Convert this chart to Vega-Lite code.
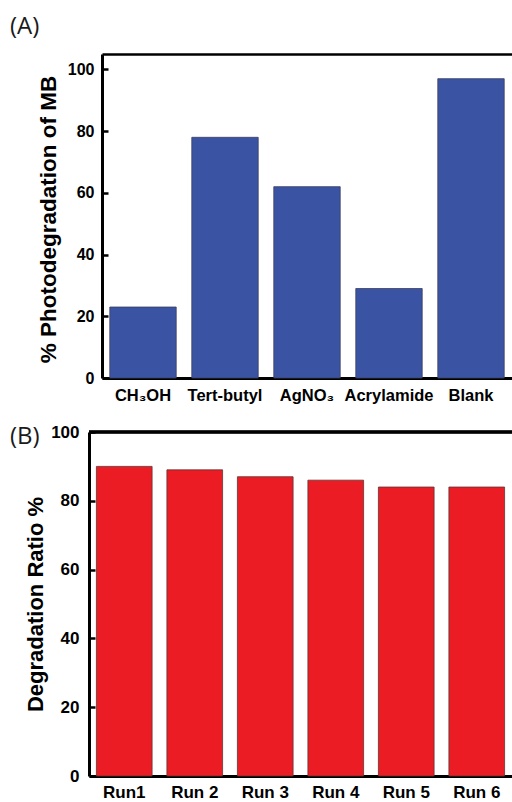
{
  "$schema": "https://vega.github.io/schema/vega-lite/v6.json",
  "padding": {"left": 10, "top": 14, "right": 0, "bottom": 0},
  "spacing": 19,
  "config": {
    "view": {"stroke": null},
    "axis": {
      "domainColor": "#000000",
      "domainWidth": 3,
      "tickColor": "#000000",
      "tickWidth": 2.5,
      "tickSize": -6,
      "grid": false,
      "labelFont": "Liberation Sans",
      "labelFontWeight": "bold",
      "labelColor": "#000000",
      "titleFont": "Liberation Sans",
      "titleFontWeight": "bold",
      "titleColor": "#000000"
    },
    "title": {
      "font": "Open Sans",
      "fontSize": 24,
      "fontWeight": "normal",
      "color": "#1a1a1a",
      "anchor": "start",
      "frame": "group",
      "baseline": "alphabetic"
    }
  },
  "vconcat": [
    {
      "title": {"text": "(A)", "offset": 15.5, "dx": -79},
      "width": 423,
      "height": 324,
      "data": {
        "values": [
          {"scavenger": "CH₃OH", "degradation": 23},
          {"scavenger": "Tert-butyl", "degradation": 78},
          {"scavenger": "AgNO₃", "degradation": 62},
          {"scavenger": "Acrylamide", "degradation": 29},
          {"scavenger": "Blank", "degradation": 97}
        ]
      },
      "resolve": {"axis": {"x": "independent"}},
      "layer": [
        {
          "mark": {"type": "bar", "color": "#3a53a3", "stroke": "#3b3f5e", "strokeWidth": 0.8},
          "encoding": {
            "x": {
              "field": "scavenger",
              "type": "nominal",
              "sort": null,
              "scale": {"range": [13, 423], "paddingInner": 0.19, "paddingOuter": 0.095},
              "axis": {"title": null, "labelAngle": 0, "labelFontSize": 16.5, "labelPadding": 15}
            },
            "y": {
              "field": "degradation",
              "type": "quantitative",
              "title": "% Photodegradation of MB",
              "scale": {"domain": [0, 105], "nice": false},
              "axis": {
                "offset": -13,
                "values": [0, 20, 40, 60, 80, 100],
                "labelFontSize": 16,
                "labelPadding": 14,
                "titleFontSize": 22.5,
                "titleX": -47,
                "titleY": 165,
                "titleBaseline": "alphabetic"
              }
            }
          }
        },
        {
          "mark": {"type": "bar", "opacity": 0},
          "encoding": {
            "x": {
              "field": "scavenger",
              "type": "nominal",
              "sort": null,
              "axis": {"orient": "top", "title": null, "labels": false, "ticks": false, "domainWidth": 2.5}
            },
            "y": {"field": "degradation", "type": "quantitative", "title": "% Photodegradation of MB"}
          }
        }
      ]
    },
    {
      "title": {"text": "(B)", "offset": -26, "dx": -79},
      "width": 423,
      "height": 344,
      "data": {
        "values": [
          {"run": "Run1", "ratio": 90},
          {"run": "Run 2", "ratio": 89},
          {"run": "Run 3", "ratio": 87},
          {"run": "Run 4", "ratio": 86},
          {"run": "Run 5", "ratio": 84},
          {"run": "Run 6", "ratio": 84}
        ]
      },
      "layer": [
        {
          "mark": {"type": "bar", "color": "#ec1c24", "stroke": "#5a3535", "strokeWidth": 0.8},
          "encoding": {
            "x": {
              "field": "run",
              "type": "nominal",
              "sort": null,
              "scale": {"paddingInner": 0.21, "paddingOuter": 0.105},
              "axis": {"title": null, "labelAngle": 0, "labelFontSize": 17, "labelBaseline": "alphabetic", "labelPadding": 27}
            },
            "y": {
              "field": "ratio",
              "type": "quantitative",
              "title": "Degradation Ratio %",
              "scale": {"domain": [0, 100], "nice": false},
              "axis": {
                "values": [0, 20, 40, 60, 80, 100],
                "labelFontSize": 17,
                "labelPadding": 16,
                "titleFontSize": 22,
                "titleX": -47,
                "titleBaseline": "alphabetic"
              }
            }
          }
        },
        {
          "mark": {"type": "rule", "color": "#000000", "strokeWidth": 2.5},
          "encoding": {"y": {"datum": 100, "type": "quantitative", "title": "Degradation Ratio %"}}
        }
      ]
    }
  ]
}
